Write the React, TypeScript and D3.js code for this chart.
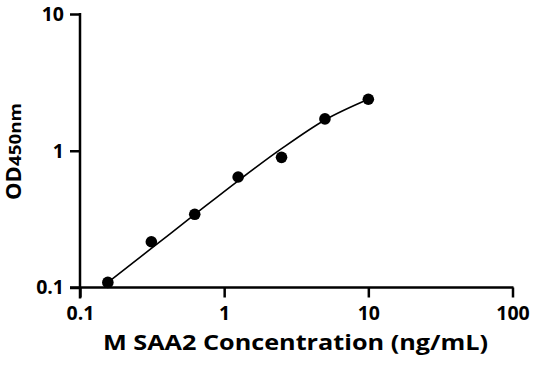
import { useEffect, useRef } from 'react';
import * as d3 from 'd3';

// Standard curve: concentration (ng/mL) vs OD450
const concentrations = [0.156, 0.3125, 0.625, 1.25, 2.5, 5, 10];
const odValues = [0.109, 0.216, 0.343, 0.643, 0.895, 1.71, 2.38];
// fitted curve at the same concentrations
const fitValues = [0.109, 0.193, 0.342, 0.603, 1.035, 1.68, 2.38];
const xTicks = [0.1, 1, 10, 100];
const yTicks = [0.1, 1, 10];

export default function App() {
  const svgRef = useRef<SVGSVGElement>(null);

  useEffect(() => {
    if (!svgRef.current) return;
    const svg = d3.select(svgRef.current);
    svg.selectAll('*').remove();

    const font = "'Open Sans', 'DejaVu Sans', sans-serif";

    const x = d3.scaleLog().domain([0.1, 100]).range([80, 512.5]);
    const y = d3.scaleLog().domain([0.1, 10]).range([287.5, 14]);

    // X axis
    const gx = svg
      .append('g')
      .attr('transform', `translate(0,${y(0.1)})`)
      .call(
        d3.axisBottom(x).tickValues(xTicks).tickSize(10).tickSizeOuter(0).tickPadding(9)
          .tickFormat((d) => `${d}`)
      );
    gx.select('.domain').attr('d', `M70,0H${x(100) + 1}`);

    // Y axis
    const gy = svg
      .append('g')
      .attr('transform', `translate(${x(0.1)},0)`)
      .call(
        d3.axisLeft(y).tickValues(yTicks).tickSize(10).tickSizeOuter(0).tickPadding(6)
          .tickFormat((d) => `${d}`)
      );
    gy.select('.domain').attr('d', `M0,${y(10) - 1}V${y(0.1) + 11}`);

    svg.selectAll('.domain').attr('stroke', '#000').attr('stroke-width', 2.5);
    svg.selectAll('.tick line').attr('stroke', '#000').attr('stroke-width', 2.5);
    svg
      .selectAll('.tick text')
      .attr('fill', '#000')
      .attr('font-family', font)
      .attr('font-weight', 'bold')
      .attr('font-size', '19.5px');

    // Fitted curve
    const line = d3
      .line<number>()
      .x((_, i) => x(concentrations[i]))
      .y((d) => y(d))
      .curve(d3.curveMonotoneX);
    svg
      .append('path')
      .attr('d', line(fitValues))
      .attr('fill', 'none')
      .attr('stroke', '#000')
      .attr('stroke-width', 1.6);

    // Data points
    svg
      .selectAll('circle')
      .data(odValues)
      .enter()
      .append('circle')
      .attr('cx', (_, i) => x(concentrations[i]))
      .attr('cy', (d) => y(d))
      .attr('r', 5.8)
      .attr('fill', '#000');

    // X title
    svg
      .append('text')
      .attr('x', 295.5)
      .attr('y', 350)
      .attr('text-anchor', 'middle')
      .attr('font-family', font)
      .attr('font-weight', 'bold')
      .attr('font-size', '22px')
      .attr('textLength', 385)
      .attr('lengthAdjust', 'spacingAndGlyphs')
      .text('M SAA2 Concentration (ng/mL)');

    // Y title
    const yt = svg
      .append('text')
      .attr('transform', 'translate(21,200) rotate(-90)')
      .attr('font-family', font)
      .attr('font-weight', 'bold');
    yt.append('tspan')
      .attr('font-size', '21px')
      .attr('textLength', 34)
      .attr('lengthAdjust', 'spacingAndGlyphs')
      .text('OD');
    yt.append('tspan')
      .attr('font-size', '15.5px')
      .attr('textLength', 63)
      .attr('lengthAdjust', 'spacingAndGlyphs')
      .text('450nm');
  }, []);

  return (
    <svg
      ref={svgRef}
      width={536}
      height={371}
      style={{ position: 'absolute', left: 0, top: 0, background: '#fff' }}
    />
  );
}
